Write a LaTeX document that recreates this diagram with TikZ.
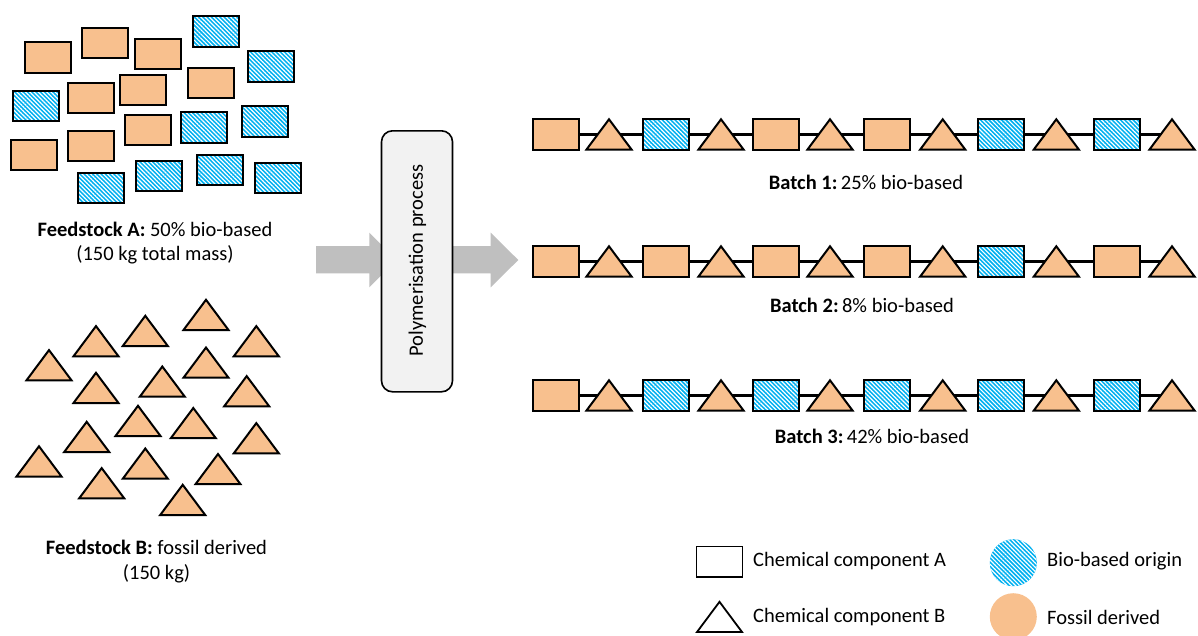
\documentclass[tikz,border=0pt]{standalone}
\usepackage{fontspec}
\setmainfont{Carlito}
\usetikzlibrary{patterns.meta,backgrounds}
\definecolor{fossil}{HTML}{F8C08E}
\definecolor{bio}{HTML}{00B0F0}
\definecolor{arrowgray}{HTML}{BFBFBF}
\definecolor{boxgray}{HTML}{F2F2F2}
\tikzset{
  comp/.style={draw=black, line width=2pt, minimum width=46pt, minimum height=30.5pt, inner sep=0pt},
  fos/.style={fill=fossil},
  bioh/.style={preaction={fill=bio}, pattern={Lines[angle=-45,distance=3pt,line width=1.2pt]}, pattern color=white},
  tri/.pic={\draw[line width=2pt, fill=fossil, line join=miter] (-22.5,15) -- (0,-15.2) -- (22.5,15) -- cycle;},
  trio/.pic={\draw[line width=1.8pt, line join=miter] (-22.5,15) -- (0,-15.2) -- (22.5,15) -- cycle;},
  lbl/.style={font=\fontsize{20.5}{24.5}\selectfont, inner sep=0pt},
  link/.style={draw=black, line width=2.2pt}
}
\begin{document}
\begin{tikzpicture}[x=1pt,y=-1pt]
\useasboundingbox (0,0) rectangle (1198,635);

% Feedstock A
\foreach \x/\y [count=\i] in {48/57.5,104.5/43,157.5/54,90.5/98,143/90,211/83,148/130,34/155,90.5/146}
  \node[comp,fos] (fa\i) at (\x,\y) {};
\foreach \x/\y [count=\i] in {215.5/31.5,270.5/66.5,36/106,204/127.5,265/121.5,101/188,159/176,220/170,278/178}
  \node[comp,bioh] (ba\i) at (\x,\y) {};
\node[lbl, align=center] (fsA) at (155,243) {\textbf{Feedstock A:} 50\% bio-based\\(150 kg total mass)};

% Feedstock B
\foreach \x/\y [count=\i] in {206/315,145.3/331,96/341.3,256.3/341.3,49/365.3,206/362.7,96/388,162.3/381.7,246.7/391.3,138/421,193.3/423.2,86.7/437,256.3/438.3,39/461.5,145.3/463.7,218/469.2,101.7/483.3,182.7/500}
  {\coordinate (fb\i) at (\x,\y); \pic at (fb\i) {tri};}
\node[lbl, align=center] (fsB) at (156.5,561.5) {\textbf{Feedstock B:} fossil derived\\(150 kg)};

% Arrows
\fill[arrowgray] (316,246) -- (369.3,246) -- (369.3,232.7) -- (396.7,260) -- (369.3,287.3) -- (369.3,273.3) -- (316,273.3) -- cycle;
\fill[arrowgray] (445,246) -- (490.7,246) -- (490.7,232.7) -- (518.3,260) -- (490.7,287.3) -- (490.7,273.3) -- (445,273.3) -- cycle;

% Process box
\node[draw=black, line width=1.6pt, fill=boxgray, rounded corners=11pt, minimum width=71pt, minimum height=261pt, inner sep=0pt] (proc) at (417,261.3) {};
\node[lbl, rotate=90] (proctext) at (417.5,260.5) {Polymerisation process};

% Chains
\foreach \row/\yy/\la/\lb/\lc/\ld/\le/\lf in {1/134.5/fos/bioh/fos/fos/bioh/bioh, 2/261.5/fos/fos/fos/fos/bioh/fos, 3/395.5/fos/bioh/bioh/bioh/bioh/bioh}{
  \node[comp,\la] (r\row s1) at (555.5,\yy) {};
  \node[comp,\lb] (r\row s2) at (666,\yy) {};
  \node[comp,\lc] (r\row s3) at (776,\yy) {};
  \node[comp,\ld] (r\row s4) at (887,\yy) {};
  \node[comp,\le] (r\row s5) at (1001,\yy) {};
  \node[comp,\lf] (r\row s6) at (1116.5,\yy) {};
  \foreach \tx [count=\i] in {609,721,830,942.7,1056.3,1172}
    {\coordinate (r\row t\i) at (\tx,\yy); \pic at (r\row t\i) {tri};}
  \begin{scope}[on background layer]
    \path[link] (r\row s1.center) -- (r\row t6);
  \end{scope}
}
\node[lbl] (b1) at (866,182.5) {\textbf{Batch 1:}\,25\% bio-based};
\node[lbl] (b2) at (862,305) {\textbf{Batch 2:}\,8\% bio-based};
\node[lbl] (b3) at (872,436) {\textbf{Batch 3:}\,42\% bio-based};

% Legend
\node[comp, line width=1.6pt] (legA) at (719.5,561.7) {};
\coordinate (legB) at (719.5,617);
\pic at (legB) {trio};
\node[lbl, anchor=west] (legAt) at (753,561) {Chemical component A};
\node[lbl, anchor=west] (legBt) at (753,617) {Chemical component B};
\node[circle, minimum size=47pt, inner sep=0pt, bioh] (legC) at (1013.3,562.7) {};
\node[circle, minimum size=47pt, inner sep=0pt, fill=fossil] (legD) at (1013.3,616.7) {};
\node[lbl, anchor=west] (legCt) at (1047,561) {Bio-based origin};
\node[lbl, anchor=west] (legDt) at (1047,617) {Fossil derived};
\end{tikzpicture}
\end{document}
